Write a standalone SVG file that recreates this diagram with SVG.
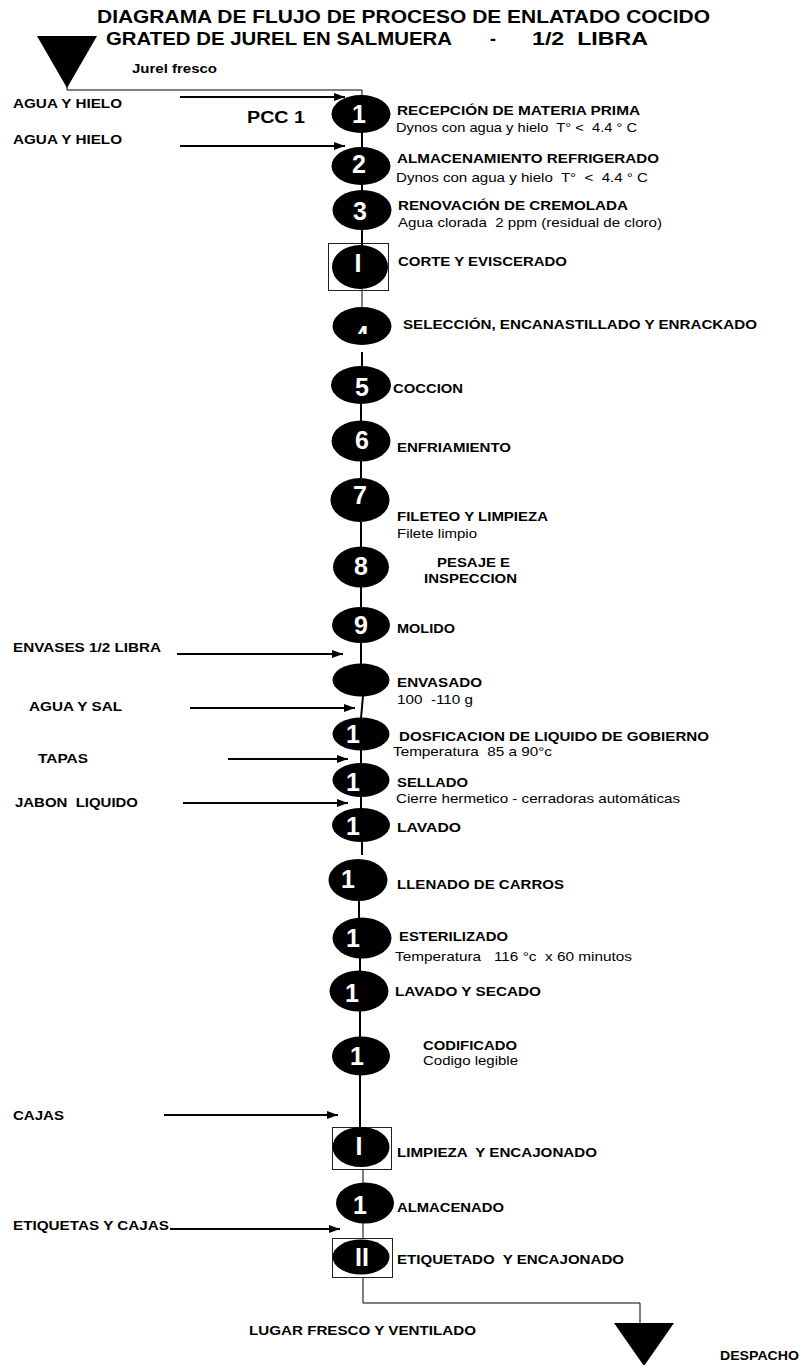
<svg xmlns="http://www.w3.org/2000/svg" width="808" height="1365" viewBox="0 0 808 1365">
<style>
text{font-family:"Liberation Sans",Arial,sans-serif;fill:#000}
.t{font-weight:bold;font-size:18px}
.b{font-weight:bold;font-size:13px}
.s{font-size:13px}
.p{font-weight:bold;font-size:16px}
.n{font-weight:bold;font-size:25px;fill:#fff;text-anchor:middle}
.e{fill:#000}
.box{fill:none;stroke:#222;stroke-width:1}
.c{stroke:#000;stroke-width:2;fill:none}
.th{stroke:#000;stroke-width:1;fill:none}
.a{stroke:#000;stroke-width:2;fill:none;marker-end:url(#ah)}
</style>
<defs>
<marker id="ah" markerUnits="userSpaceOnUse" markerWidth="11" markerHeight="8" refX="11" refY="4" orient="auto"><path d="M0,0 L11,4 L0,8 z" fill="#000"/></marker>
<clipPath id="c4"><rect x="330" y="300" width="70" height="34"/></clipPath>
</defs>
<rect width="808" height="1365" fill="#fff"/>
<g id="title">
<text class="t" x="97" y="23" textLength="613" lengthAdjust="spacingAndGlyphs">DIAGRAMA DE FLUJO DE PROCESO DE ENLATADO COCIDO</text>
<text class="t" x="106" y="45" textLength="346" lengthAdjust="spacingAndGlyphs">GRATED DE JUREL EN SALMUERA</text>
<text class="t" x="490" y="45">-</text>
<text class="t" x="532" y="45" textLength="116" lengthAdjust="spacingAndGlyphs" xml:space="preserve">1/2  LIBRA</text>
</g>
<g id="connectors">
<polyline class="th" points="67,86 67,90 362,90 362,96"/>
<line class="a" x1="180" y1="97" x2="345" y2="97"/>
<line class="a" x1="180" y1="146" x2="345" y2="146"/>
<line class="a" x1="177" y1="654" x2="343" y2="654"/>
<line class="a" x1="190" y1="708" x2="355" y2="708"/>
<line class="a" x1="228" y1="759" x2="348" y2="759"/>
<line class="a" x1="183" y1="803" x2="348" y2="803"/>
<line class="a" x1="164" y1="1115" x2="338" y2="1115"/>
<line class="a" x1="170" y1="1229" x2="340" y2="1229"/>
<line class="c" x1="362" y1="132" x2="362" y2="148"/>
<line class="c" x1="362" y1="184" x2="362" y2="191"/>
<line class="c" x1="362" y1="229" x2="362" y2="246"/>
<line class="th" x1="362" y1="289" x2="362" y2="308"/>
<line class="c" x1="362" y1="352" x2="362" y2="367"/>
<line class="c" x1="361" y1="403" x2="361" y2="421"/>
<line class="c" x1="361" y1="461" x2="361" y2="479"/>
<line class="c" x1="361" y1="521" x2="361" y2="547"/>
<line class="c" x1="361" y1="587" x2="361" y2="608"/>
<line class="c" x1="361" y1="642" x2="361" y2="664"/>
<line class="c" x1="363" y1="696" x2="361" y2="718"/>
<line class="c" x1="361" y1="750" x2="361" y2="764"/>
<line class="c" x1="361" y1="796" x2="361" y2="809"/>
<line class="c" x1="362" y1="841" x2="362" y2="855"/>
<line class="c" x1="359" y1="900" x2="359" y2="919"/>
<line class="c" x1="360" y1="958" x2="360" y2="972"/>
<line class="c" x1="360" y1="1011" x2="360" y2="1037"/>
<line class="c" x1="360" y1="1075" x2="360" y2="1128"/>
<line class="th" x1="363" y1="1169" x2="363" y2="1184"/>
<line class="th" x1="363" y1="1223" x2="363" y2="1238"/>
<polyline class="th" points="363,1277 363,1303 640,1303 640,1324"/>
</g>
<g id="start">
<polygon points="37,36 97,36 67,88" fill="#000"/>
<text class="b" x="132" y="73" textLength="85" lengthAdjust="spacingAndGlyphs">Jurel fresco</text>
</g>
<g id="inputs">
<text class="b" x="13" y="108" textLength="109" lengthAdjust="spacingAndGlyphs">AGUA Y HIELO</text>
<text class="b" x="13" y="144" textLength="109" lengthAdjust="spacingAndGlyphs">AGUA Y HIELO</text>
<text class="p" x="247" y="123" textLength="58" lengthAdjust="spacingAndGlyphs">PCC 1</text>
<text class="b" x="13" y="652" textLength="148" lengthAdjust="spacingAndGlyphs">ENVASES 1/2 LIBRA</text>
<text class="b" x="29" y="711" textLength="93" lengthAdjust="spacingAndGlyphs">AGUA Y SAL</text>
<text class="b" x="38" y="763" textLength="50" lengthAdjust="spacingAndGlyphs">TAPAS</text>
<text class="b" x="15" y="807" textLength="123" lengthAdjust="spacingAndGlyphs" xml:space="preserve">JABON  LIQUIDO</text>
<text class="b" x="13" y="1120" textLength="51" lengthAdjust="spacingAndGlyphs">CAJAS</text>
<text class="b" x="13" y="1230" textLength="156" lengthAdjust="spacingAndGlyphs">ETIQUETAS Y CAJAS</text>
</g>
<g id="n1">
<ellipse class="e" cx="361" cy="114" rx="29.5" ry="19"/>
<text class="n" x="359" y="123">1</text>
<text class="b" x="397" y="115" textLength="243" lengthAdjust="spacingAndGlyphs">RECEPCIÓN DE MATERIA PRIMA</text>
<text class="s" x="396" y="132" textLength="241" lengthAdjust="spacingAndGlyphs" xml:space="preserve">Dynos con agua y hielo  T° &lt;  4.4 ° C</text>
</g>
<g id="n2">
<ellipse class="e" cx="361" cy="166" rx="29.5" ry="19"/>
<text class="n" x="359" y="172.5">2</text>
<text class="b" x="397" y="163" textLength="262" lengthAdjust="spacingAndGlyphs">ALMACENAMIENTO REFRIGERADO</text>
<text class="s" x="396" y="182" textLength="252" lengthAdjust="spacingAndGlyphs" xml:space="preserve">Dynos con agua y hielo  T°  &lt;  4.4 ° C</text>
</g>
<g id="n3">
<ellipse class="e" cx="362" cy="210" rx="29.5" ry="20"/>
<text class="n" x="360" y="220">3</text>
<text class="b" x="398" y="210" textLength="230" lengthAdjust="spacingAndGlyphs">RENOVACIÓN DE CREMOLADA</text>
<text class="s" x="398" y="227" textLength="264" lengthAdjust="spacingAndGlyphs" xml:space="preserve">Agua clorada  2 ppm (residual de cloro)</text>
</g>
<g id="i1">
<rect class="box" x="328.5" y="243.5" width="60" height="47"/>
<ellipse class="e" cx="360" cy="267" rx="28" ry="22"/>
<text class="n" x="358" y="271.5">I</text>
<text class="b" x="398" y="266" textLength="169" lengthAdjust="spacingAndGlyphs">CORTE Y EVISCERADO</text>
</g>
<g id="n4">
<ellipse class="e" cx="362" cy="326" rx="29.5" ry="19"/>
<text class="n" x="362" y="344" clip-path="url(#c4)">4</text>
<text class="b" x="403" y="329" textLength="354" lengthAdjust="spacingAndGlyphs">SELECCIÓN, ENCANASTILLADO Y ENRACKADO</text>
</g>
<g id="n5">
<ellipse class="e" cx="361" cy="385" rx="30" ry="19"/>
<text class="n" x="362" y="395.5">5</text>
<text class="b" x="393" y="393" textLength="70" lengthAdjust="spacingAndGlyphs">COCCION</text>
</g>
<g id="n6">
<ellipse class="e" cx="361" cy="441" rx="29.5" ry="20.5"/>
<text class="n" x="362" y="449">6</text>
<text class="b" x="397" y="452" textLength="114" lengthAdjust="spacingAndGlyphs">ENFRIAMIENTO</text>
</g>
<g id="n7">
<ellipse class="e" cx="360" cy="500" rx="29.5" ry="22"/>
<text class="n" x="360" y="504">7</text>
<text class="b" x="397" y="521" textLength="151" lengthAdjust="spacingAndGlyphs">FILETEO Y LIMPIEZA</text>
<text class="s" x="397" y="538" textLength="80" lengthAdjust="spacingAndGlyphs">Filete limpio</text>
</g>
<g id="n8">
<ellipse class="e" cx="361" cy="567" rx="28" ry="20.5"/>
<text class="n" x="361" y="575">8</text>
<text class="b" x="437" y="567" textLength="73" lengthAdjust="spacingAndGlyphs">PESAJE E</text>
<text class="b" x="424" y="583" textLength="93" lengthAdjust="spacingAndGlyphs">INSPECCION</text>
</g>
<g id="n9">
<ellipse class="e" cx="361" cy="625" rx="29" ry="18"/>
<text class="n" x="361" y="634">9</text>
<text class="b" x="397" y="633" textLength="58" lengthAdjust="spacingAndGlyphs">MOLIDO</text>
</g>
<g id="envasado">
<ellipse class="e" cx="361" cy="680" rx="28.5" ry="16.5"/>
<text class="b" x="397" y="687" textLength="85" lengthAdjust="spacingAndGlyphs">ENVASADO</text>
<text class="s" x="397" y="704" textLength="76" lengthAdjust="spacingAndGlyphs" xml:space="preserve">100  -110 g</text>
</g>
<g id="dosificacion">
<ellipse class="e" cx="361" cy="734" rx="28.5" ry="16.5"/>
<text class="n" x="353" y="743">1</text>
<text class="b" x="399" y="741" textLength="310" lengthAdjust="spacingAndGlyphs">DOSFICACION DE LIQUIDO DE GOBIERNO</text>
<text class="s" x="393" y="756" textLength="159" lengthAdjust="spacingAndGlyphs" xml:space="preserve">Temperatura  85 a 90°c</text>
</g>
<g id="sellado">
<ellipse class="e" cx="361" cy="780" rx="28.5" ry="17"/>
<text class="n" x="353" y="791">1</text>
<text class="b" x="397" y="787" textLength="71" lengthAdjust="spacingAndGlyphs">SELLADO</text>
<text class="s" x="396" y="803" textLength="284" lengthAdjust="spacingAndGlyphs">Cierre hermetico - cerradoras automáticas</text>
</g>
<g id="lavado">
<ellipse class="e" cx="361" cy="825" rx="29" ry="17"/>
<text class="n" x="353" y="835">1</text>
<text class="b" x="397" y="832" textLength="64" lengthAdjust="spacingAndGlyphs">LAVADO</text>
</g>
<g id="llenado">
<ellipse class="e" cx="358" cy="880" rx="29.5" ry="21"/>
<text class="n" x="348" y="888">1</text>
<text class="b" x="397" y="889" textLength="167" lengthAdjust="spacingAndGlyphs">LLENADO DE CARROS</text>
</g>
<g id="esterilizado">
<ellipse class="e" cx="362" cy="938" rx="29.5" ry="20.5"/>
<text class="n" x="353" y="947">1</text>
<text class="b" x="399" y="941" textLength="109" lengthAdjust="spacingAndGlyphs">ESTERILIZADO</text>
<text class="s" x="395" y="961" textLength="237" lengthAdjust="spacingAndGlyphs" xml:space="preserve">Temperatura   116 °c  x 60 minutos</text>
</g>
<g id="lavado-secado">
<ellipse class="e" cx="359" cy="991" rx="29.5" ry="20.5"/>
<text class="n" x="352" y="1002">1</text>
<text class="b" x="395" y="996" textLength="146" lengthAdjust="spacingAndGlyphs">LAVADO Y SECADO</text>
</g>
<g id="codificado">
<ellipse class="e" cx="361" cy="1056" rx="29" ry="19.5"/>
<text class="n" x="357" y="1065">1</text>
<text class="b" x="423" y="1050" textLength="94" lengthAdjust="spacingAndGlyphs">CODIFICADO</text>
<text class="s" x="423" y="1065" textLength="95" lengthAdjust="spacingAndGlyphs">Codigo legible</text>
</g>
<g id="i2">
<rect class="box" x="332.5" y="1127.5" width="59" height="42"/>
<ellipse class="e" cx="361" cy="1147" rx="28.5" ry="20"/>
<text class="n" x="359" y="1155">I</text>
<text class="b" x="397" y="1157" textLength="200" lengthAdjust="spacingAndGlyphs" xml:space="preserve">LIMPIEZA  Y ENCAJONADO</text>
</g>
<g id="almacenado">
<ellipse class="e" cx="365" cy="1203" rx="29" ry="20.5"/>
<text class="n" x="360" y="1214">1</text>
<text class="b" x="397" y="1212" textLength="107" lengthAdjust="spacingAndGlyphs">ALMACENADO</text>
</g>
<g id="ii">
<rect class="box" x="332.5" y="1238.5" width="60" height="39"/>
<ellipse class="e" cx="361" cy="1257" rx="28.5" ry="17.5"/>
<text class="n" x="362" y="1266">II</text>
<text class="b" x="397" y="1264" textLength="227" lengthAdjust="spacingAndGlyphs" xml:space="preserve">ETIQUETADO  Y ENCAJONADO</text>
</g>
<g id="end">
<polygon points="614,1323 674,1323 644,1366" fill="#000"/>
<text class="b" x="249" y="1335" textLength="227" lengthAdjust="spacingAndGlyphs">LUGAR FRESCO Y VENTILADO</text>
<text class="b" x="720" y="1360" textLength="79" lengthAdjust="spacingAndGlyphs">DESPACHO</text>
</g>
</svg>
